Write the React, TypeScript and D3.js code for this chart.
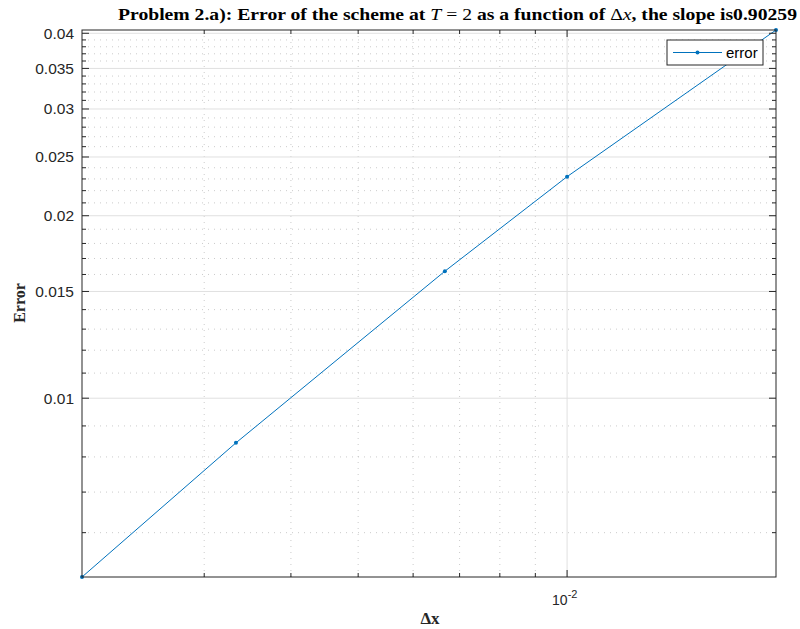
import React, { useEffect, useRef } from 'react'
import * as d3 from 'd3'

// grid spacing dx and the error at T = 2
const dxValues = [1 / 500, 1 / 300, 1 / 150, 1 / 100, 1 / 50]
const errorValues = [0.00507, 0.00844, 0.0162, 0.0232, 0.0405]

const yMajorTicks = [0.01, 0.015, 0.02, 0.025, 0.03, 0.035, 0.04]
const yTickLabels = ['0.01', '0.015', '0.02', '0.025', '0.03', '0.035', '0.04']
const yMinorTicks = [
  0.006, 0.007, 0.008, 0.009,
  0.011, 0.012, 0.013, 0.014,
  0.016, 0.017, 0.018, 0.019,
  0.021, 0.022, 0.023, 0.024,
  0.026, 0.027, 0.028, 0.029,
  0.031, 0.032, 0.033, 0.034,
  0.036, 0.037, 0.038, 0.039,
]
const xMajorTicks = [0.01]
const xMinorTicks = [0.003, 0.004, 0.005, 0.006, 0.007, 0.008, 0.009]

const WIDTH = 800
const HEIGHT = 629
const AXIS = '#262626'
const LINE = '#0072BD'

export default function App() {
  const ref = useRef<SVGSVGElement | null>(null)

  useEffect(() => {
    const svg = d3.select(ref.current)
    svg.selectAll('*').remove()

    const M = { left: 82, right: 776, top: 30, bottom: 577 }

    const x = d3.scaleLog()
      .domain([d3.min(dxValues)!, d3.max(dxValues)!])
      .range([M.left, M.right])
    const y = d3.scaleLog()
      .domain([d3.min(errorValues)!, d3.max(errorValues)!])
      .range([M.bottom, M.top])

    svg.append('rect')
      .attr('x', M.left).attr('y', M.top)
      .attr('width', M.right - M.left).attr('height', M.bottom - M.top)
      .attr('fill', '#fff')

    // grid
    const grid = svg.append('g')
    grid.selectAll('.ymin').data(yMinorTicks).enter().append('line')
      .attr('x1', M.left).attr('x2', M.right)
      .attr('y1', d => y(d)).attr('y2', d => y(d))
      .attr('stroke', '#b4b4b4').attr('stroke-width', 0.7)
      .attr('stroke-dasharray', '1,5')
    grid.selectAll('.xmin').data(xMinorTicks).enter().append('line')
      .attr('y1', M.top).attr('y2', M.bottom)
      .attr('x1', d => x(d)).attr('x2', d => x(d))
      .attr('stroke', '#b4b4b4').attr('stroke-width', 0.7)
      .attr('stroke-dasharray', '1,5')
    grid.selectAll('.ymaj').data(yMajorTicks).enter().append('line')
      .attr('x1', M.left).attr('x2', M.right)
      .attr('y1', d => y(d)).attr('y2', d => y(d))
      .attr('stroke', '#e0e0e0').attr('stroke-width', 1)
    grid.selectAll('.xmaj').data(xMajorTicks).enter().append('line')
      .attr('y1', M.top).attr('y2', M.bottom)
      .attr('x1', d => x(d)).attr('x2', d => x(d))
      .attr('stroke', '#e0e0e0').attr('stroke-width', 1)

    // data line
    const line = d3.line<number>()
      .x((d, i) => x(dxValues[i]))
      .y(d => y(d))
    svg.append('path')
      .datum(errorValues)
      .attr('d', line)
      .attr('fill', 'none')
      .attr('stroke', LINE)
      .attr('stroke-width', 1)
    svg.selectAll('.pt').data(errorValues).enter().append('circle')
      .attr('cx', (d, i) => x(dxValues[i]))
      .attr('cy', d => y(d))
      .attr('r', 2)
      .attr('fill', LINE)

    // axes box and ticks (inward, on all four sides)
    const axes = svg.append('g').attr('stroke', AXIS).attr('stroke-width', 1)
    axes.append('rect')
      .attr('x', M.left).attr('y', M.top)
      .attr('width', M.right - M.left).attr('height', M.bottom - M.top)
      .attr('fill', 'none')
    const yTicks = yMajorTicks.map(v => ({ v, len: 7 })).concat(yMinorTicks.map(v => ({ v, len: 4 })))
    yTicks.forEach(t => {
      axes.append('line').attr('x1', M.left).attr('x2', M.left + t.len)
        .attr('y1', y(t.v)).attr('y2', y(t.v))
      axes.append('line').attr('x1', M.right).attr('x2', M.right - t.len)
        .attr('y1', y(t.v)).attr('y2', y(t.v))
    })
    const xTicks = xMajorTicks.map(v => ({ v, len: 7 })).concat(xMinorTicks.map(v => ({ v, len: 4 })))
    xTicks.forEach(t => {
      axes.append('line').attr('y1', M.bottom).attr('y2', M.bottom - t.len)
        .attr('x1', x(t.v)).attr('x2', x(t.v))
      axes.append('line').attr('y1', M.top).attr('y2', M.top + t.len)
        .attr('x1', x(t.v)).attr('x2', x(t.v))
    })

    // tick labels
    svg.selectAll('.ylab').data(yMajorTicks).enter().append('text')
      .attr('x', M.left - 8)
      .attr('y', d => y(d))
      .attr('dy', '0.35em')
      .attr('text-anchor', 'end')
      .attr('font-family', 'Liberation Sans, Arial, sans-serif')
      .attr('font-size', 15.5)
      .attr('fill', AXIS)
      .text((d, i) => yTickLabels[i])

    const xl = svg.selectAll('.xlab').data(xMajorTicks).enter().append('text')
      .attr('x', d => x(d) - 15)
      .attr('y', 605)
      .attr('font-family', 'Liberation Sans, Arial, sans-serif')
      .attr('font-size', 14)
      .attr('fill', AXIS)
    xl.append('tspan').text('10')
    xl.append('tspan').attr('dy', -7).attr('font-size', 11).text('-2')

    // axis labels
    svg.append('text')
      .attr('x', 430)
      .attr('y', 624)
      .attr('text-anchor', 'middle')
      .attr('font-family', 'Liberation Serif, serif')
      .attr('font-weight', 'bold')
      .attr('font-size', 17)
      .attr('fill', AXIS)
      .text('Δx')
    svg.append('text')
      .attr('transform', 'translate(25,303) rotate(-90)')
      .attr('text-anchor', 'middle')
      .attr('font-family', 'Liberation Serif, serif')
      .attr('font-weight', 'bold')
      .attr('font-size', 16)
      .attr('fill', AXIS)
      .text('Error')

    // title
    const title = svg.append('text')
      .attr('x', 118)
      .attr('y', 20)
      .attr('textLength', 679)
      .attr('lengthAdjust', 'spacingAndGlyphs')
      .attr('font-family', 'Liberation Serif, serif')
      .attr('font-size', 17)
      .attr('fill', '#000')
    title.append('tspan').attr('font-weight', 'bold').text('Problem 2.a): Error of the scheme at ')
    title.append('tspan').attr('font-style', 'italic').text('T')
    title.append('tspan').text(' = 2')
    title.append('tspan').attr('font-weight', 'bold').text(' as a function of ')
    title.append('tspan').text('Δ')
    title.append('tspan').attr('font-style', 'italic').text('x')
    title.append('tspan').attr('font-weight', 'bold').text(', the slope is0.90259')

    // legend
    const lg = svg.append('g')
    lg.append('rect')
      .attr('x', 667).attr('y', 40).attr('width', 96).attr('height', 25)
      .attr('fill', '#fff').attr('stroke', AXIS).attr('stroke-width', 1)
    lg.append('line')
      .attr('x1', 673).attr('x2', 722).attr('y1', 52.5).attr('y2', 52.5)
      .attr('stroke', LINE).attr('stroke-width', 1)
    lg.append('circle').attr('cx', 697.5).attr('cy', 52.5).attr('r', 2).attr('fill', LINE)
    lg.append('text')
      .attr('x', 726).attr('y', 58)
      .attr('font-family', 'Liberation Sans, Arial, sans-serif')
      .attr('font-size', 15)
      .attr('fill', '#000')
      .text('error')
  }, [])

  return (
    <svg ref={ref} width={WIDTH} height={HEIGHT}
      style={{ position: 'absolute', left: 0, top: 0, background: '#fff' }} />
  )
}
